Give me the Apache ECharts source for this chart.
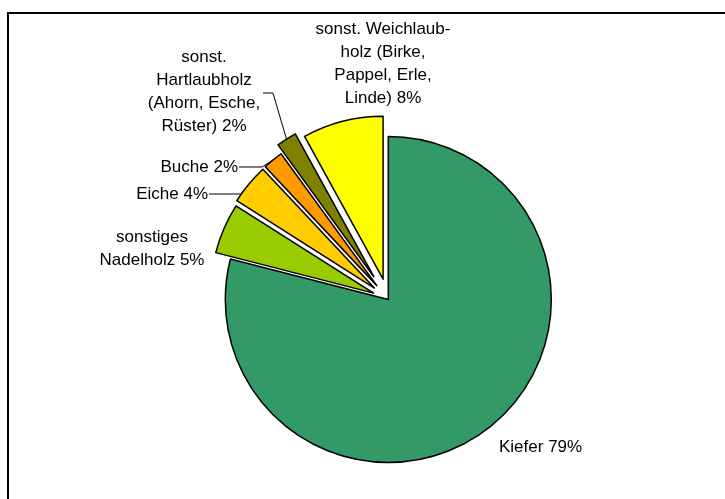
<!DOCTYPE html>
<html><head><meta charset="utf-8">
<script src="https://cdn.jsdelivr.net/npm/echarts@6/dist/echarts.min.js"></script>
<style>html,body{margin:0;padding:0;background:#fff}#c{width:725px;height:499px}</style>
</head><body><div id="c"></div>
<script>
const categories = ['Kiefer','sonstiges\nNadelholz','Eiche','Buche','sonst.\nHartlaubholz\n(Ahorn, Esche,\nRüster)','sonst. Weichlaub-\nholz (Birke,\nPappel, Erle,\nLinde)'];
const shares = [79, 5, 4, 2, 2, 8];
const colors = ['#339966', '#99CC00', '#FFCC00', '#FF9900', '#808000', '#FFFF00'];
const explode = [0, 16, 18, 18, 27, 21];
const labelPos = [
  {x: 499, y: 447, align: 'left'},
  {x: 152, y: 249, align: 'center'},
  {x: 208, y: 194, align: 'right'},
  {x: 238, y: 167, align: 'right'},
  {x: 204, y: 92, align: 'center'},
  {x: 383, y: 64, align: 'center'}
];
const leaders = [null, null, [[209,194],[241,194]], [[239,167],[262,167]], [[263,93],[273,93]], null];

const C = [388.3, 299.5], R = 163;
const total = shares.reduce((a, b) => a + b, 0);
let cum = 0;
const mids = shares.map(v => { const m = (cum + v / 2) / total * 360; cum += v; return m; });
function dir(deg) { const a = deg * Math.PI / 180; return [Math.sin(a), -Math.cos(a)]; }

const FONT = {fontFamily: "'Liberation Sans', Arial, sans-serif", fontSize: 17, color: '#000', lineHeight: 23};

const series = categories.map((_, i) => {
  const d = dir(mids[i]);
  const center = [C[0] + explode[i] * d[0], C[1] + explode[i] * d[1]];
  const anchor = [center[0] + R * d[0], center[1] + R * d[1]];
  return {
    type: 'pie',
    radius: R,
    center: center,
    startAngle: 90,
    clockwise: true,
    avoidLabelOverlap: false,
    animation: false,
    silent: true,
    emphasis: {disabled: true},
    data: categories.map((name, j) => j === i ? {
      name: name, value: shares[j],
      itemStyle: {color: colors[j], borderColor: '#000', borderWidth: 1.5},
      label: Object.assign({show: true, position: 'outside', formatter: '{b} {c}%'}, FONT),
      labelLine: {show: !!leaders[j], lineStyle: {color: '#000', width: 1}, length: 5, length2: 5}
    } : {
      name: name, value: shares[j],
      itemStyle: {color: 'rgba(0,0,0,0)', borderWidth: 0},
      label: {show: false}, labelLine: {show: false}
    }),
    labelLayout: function (p) {
      if (p.dataIndex !== i) return {};
      const lp = labelPos[i];
      const o = {x: lp.x, y: lp.y, align: lp.align, verticalAlign: 'middle'};
      if (leaders[i]) o.labelLinePoints = [anchor, leaders[i][1], leaders[i][0]];
      return o;
    }
  };
});

const chart = echarts.init(document.getElementById('c'), null, {renderer: 'canvas'});
chart.setOption({
  backgroundColor: '#fff',
  animation: false,
  graphic: [{type: 'rect', shape: {x: 8, y: 13, width: 760, height: 540}, style: {fill: 'none', stroke: '#000', lineWidth: 2}, silent: true}],
  series: series
});
</script></body></html>
